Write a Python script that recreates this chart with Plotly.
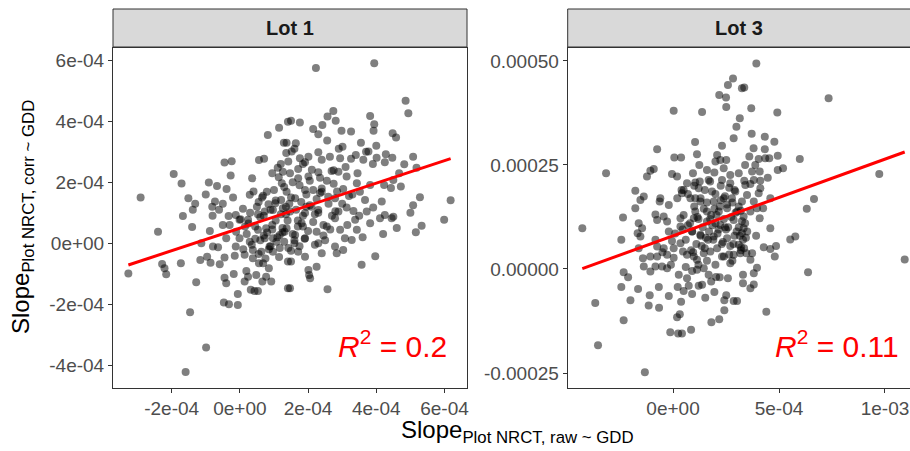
import numpy as np
import plotly.graph_objects as go

# ---------------- data (values in units of 1e-4) ----------------
lot1_x = [
 -2.91,-1.94,-1.71,-1.51,-1.31,-1.38,-1.67,-0.91,-0.67,-0.39,-0.45,-0.24,-0.27,-0.81,-0.73,-0.61,-0.33,-0.12,0.09,0.29,
 0.36,0.56,0.71,0.82,1.15,1.29,1.36,1.11,1.26,1.14,1.23,0.79,0.55,0.68,0.84,1.04,1.21,1.26,0.97,0.73,0.53,0.02,1.41,
 2.23,3.94,4.86,4.94,1.50,1.76,2.57,2.74,2.81,2.42,2.15,2.30,2.98,3.26,2.56,3.82,3.94,3.92,4.48,4.58,3.01,1.37,1.64,
 1.52,1.42,1.76,2.01,2.30,2.40,2.64,2.94,3.26,3.62,3.77,4.01,4.28,4.47,4.25,4.82,5.08,5.18,4.67,4.50,4.72,4.23,4.43,
 5.28,5.08,6.18,5.99,4.16,3.91,3.67,3.43,3.45,3.13,2.89,2.69,2.55,2.30,2.11,1.91,1.71,1.47,1.71,2.01,1.91,2.15,2.40,
 1.62,1.37,1.47,3.03,2.79,3.13,3.33,2.89,2.59,2.30,1.91,3.52,3.82,3.72,4.25,4.50,
 5.33,5.16,3.97,3.57,2.57,1.47,2.03,2.06,2.01,2.25,1.50,1.91,1.71,1.42,2.40,2.84,3.03,3.28,3.43,2.79,2.30,1.91,1.62,
 1.37,1.81,2.25,2.55,2.94,3.08,3.82,4.11,4.45,3.38,2.79,
 -3.27,-2.40,-2.28,-2.21,-2.16,-1.73,-1.40,-1.28,-1.46,-0.99,-1.59,-0.88,-1.13,-1.16,-0.96,-0.86,-0.59,-0.79,-0.64,
 -0.45,-0.45,-0.40,-0.18,-0.47,-0.32,-0.06,-0.06,-0.15,-0.12,-0.40,0.14,0.19,0.24,0.14,0.32,0.43,0.53,0.38,0.56,0.48,
 0.66,0.77,0.92,0.85,0.68,0.63,0.38,0.29,-0.01,-0.11,-0.30,-0.01,0.24,0.53,0.73,0.87,0.97,1.07,1.17,1.31,1.41,1.41,
 0.77,0.97,1.17,-0.50,
 0.20,0.45,0.60,0.80,0.95,1.10,1.25,1.40,1.55,1.70,1.85,2.00,2.15,2.30,2.45,0.30,0.50,0.70,0.90,1.05,1.20,1.35,1.50,
 1.65,1.80,1.95,2.10,2.25,2.40,2.60,2.70,2.85,3.00,3.15,3.30,3.50,0.10,0.35,0.55,0.75,0.90,1.15,1.30,1.50,1.60,1.75,
 1.90,2.20,2.50,2.65,1.00,1.30,1.55,1.75,2.05,0.65,0.40,2.35,2.75,3.10,3.40,3.70,3.90,4.00,3.55,2.90,1.85,1.60,1.20,0.95,
 -1.00,-0.80,-0.50,-0.20,4.20,4.60,3.60,5.00,0.25,0.60,0.95,1.35,1.70,2.05,2.45,2.80,3.20,0.45,0.85,1.25,1.60,1.95,
 2.35,2.75,1.05,1.45,1.85,2.20,0.15,0.70,
]
lot1_y = [
 1.50,2.27,1.96,1.48,1.30,1.10,0.89,1.99,1.88,1.78,2.65,2.69,2.22,1.20,1.37,1.10,0.89,0.93,1.13,1.59,
 2.13,2.73,2.77,3.55,3.79,3.30,2.96,2.48,2.35,2.17,1.97,1.69,1.35,1.56,1.28,1.31,1.42,1.15,1.09,1.04,0.95,0.79,3.99,
 5.75,5.91,4.68,4.27,4.02,3.96,4.16,4.34,4.02,3.88,3.75,3.58,3.69,3.67,3.37,4.18,3.91,3.69,3.61,3.47,3.17,3.30,3.28,
 3.01,2.68,2.79,2.84,2.99,2.74,2.84,2.79,2.77,2.74,3.01,2.81,2.92,2.81,2.66,2.59,2.84,2.48,2.30,2.08,1.86,1.91,1.81,
 1.51,1.25,1.41,0.77,1.37,1.17,1.42,1.97,2.30,2.19,2.35,2.37,2.05,2.33,2.41,2.66,2.44,2.30,2.13,2.19,1.75,1.75,1.69,
 1.48,1.69,1.04,1.78,1.48,1.17,1.06,1.04,1.53,1.09,0.99,1.69,1.91,1.04,0.93,0.87,
 0.57,0.36,-0.43,-0.71,-1.51,-1.48,-1.04,-1.15,-0.88,-0.77,-0.60,-0.44,-0.28,-0.16,-0.33,-0.33,-0.22,0.11,0.44,-0.11,
 0.00,0.16,0.27,0.49,0.66,0.38,0.55,0.44,0.16,0.66,0.82,0.82,0.77,0.82,
 -0.99,0.38,-0.68,-0.82,-1.02,-0.66,0.53,-1.28,-2.27,-3.42,-4.23,0.40,0.00,-0.55,-0.44,-0.64,-0.69,-0.11,-0.13,
 -0.47,-1.13,-1.31,-1.01,-1.95,-2.00,-2.03,-1.67,-0.41,-0.11,0.16,-0.38,-0.91,-1.10,-1.26,-1.53,-1.57,-1.57,-0.49,-0.66,
 -1.04,-1.26,-1.10,-1.26,-0.82,-0.66,-0.28,-0.22,0.05,0.16,0.38,0.60,0.77,0.77,0.44,0.16,-0.11,-0.28,0.05,-0.16,0.38,
 -0.60,-1.48,0.49,0.16,0.27,0.60,
 0.30,0.55,0.10,0.35,0.60,0.20,0.50,0.75,0.30,0.55,0.90,0.40,0.70,1.00,0.25,1.00,1.20,0.90,1.10,1.40,0.95,1.20,1.50,
 1.10,1.35,1.60,1.20,1.45,1.80,1.30,0.90,1.70,1.30,0.60,1.60,0.90,-0.20,-0.05,-0.35,-0.50,-0.10,-0.45,0.05,-0.25,0.00,
 -0.10,0.15,-0.05,0.10,0.45,1.75,1.85,2.00,1.90,2.05,1.50,1.70,2.15,2.40,2.50,2.90,3.00,2.60,3.20,3.30,3.10,2.60,3.10,
 2.60,2.30,
 1.60,0.90,1.30,1.50,0.30,0.50,0.20,1.00,0.65,0.85,0.45,0.95,0.75,1.25,0.60,1.05,1.55,0.15,-0.20,0.35,0.10,1.20,
 1.65,1.95,0.75,1.30,0.55,0.95,0.55,0.25,
]

lot3_x = [
 -3.16,0.03,1.37,2.83,2.59,2.18,2.50,2.51,3.25,3.15,2.99,2.86,1.04,2.31,-0.75,0.06,0.38,1.13,2.08,2.23,2.00,2.51,1.24,
 1.60,1.95,2.39,2.70,-0.91,-1.07,-1.23,-0.05,0.19,0.94,1.05,1.26,0.66,1.68,2.31,2.70,2.94,-1.78,-1.38,-1.54,-1.78,
 -0.60,-0.63,-0.20,-0.83,-0.44,-2.36,0.50,0.42,0.82,1.21,1.29,1.84,1.92,2.39,2.78,1.05,1.60,2.16,0.35,2.55,3.02,
 3.93,3.36,3.69,4.92,7.34,3.71,4.33,4.78,4.33,4.35,4.54,4.04,4.94,5.98,5.19,4.94,3.88,3.73,4.09,4.47,4.12,3.81,3.36,
 3.41,3.65,4.12,4.04,4.59,3.49,3.25,3.81,3.96,4.25,3.65,3.10,9.73,6.65,6.31,4.09,3.33,
 10.93,6.37,4.40,5.53,5.77,4.59,3.33,3.25,3.92,3.44,4.28,4.59,4.86,4.80,3.21,3.17,3.46,3.73,3.65,3.96,3.81,3.30,3.30,
 3.81,3.65,3.02,
 -4.28,-3.67,-3.54,-2.33,-1.33,-2.44,-2.33,-2.12,-2.44,-2.01,-1.65,-1.15,-1.10,-0.67,-0.66,-0.20,-0.13,0.24,0.42,0.85,
 0.19,0.32,0.38,0.22,0.50,0.74,0.90,0.27,0.66,1.13,1.21,1.52,1.95,2.42,2.51,2.86,2.42,2.18,1.81,2.59,2.03,1.68,1.45,
 1.37,-1.38,-1.07,-0.83,-0.28,-0.52,-1.07,-0.75,-1.42,-1.62,-1.67,-1.54,-1.62,-0.83,-0.75,-0.44,-0.28,0.03,0.03,-0.05,
 0.35,0.47,0.66,0.98,1.13,1.45,1.76,2.08,2.31,2.70,2.86,3.10,2.55,1.92,1.29,0.90,0.35,-0.28,-0.75,-1.46,0.98,1.60,
 2.23,2.86,
 0.50,0.80,1.00,1.20,1.40,1.60,1.80,2.00,2.20,2.40,2.60,2.80,3.00,3.20,3.40,0.60,0.90,1.10,1.30,1.50,1.70,1.90,2.10,
 2.30,2.50,2.70,2.90,3.10,3.30,3.50,0.20,0.40,0.70,1.00,1.30,1.50,1.75,2.00,2.25,2.45,2.65,2.90,3.10,3.40,3.60,3.80,
 1.20,1.60,2.00,2.40,2.80,3.20,0.10,-0.20,-0.50,-0.10,0.60,0.90,1.80,2.20,
 0.70,1.15,1.55,1.95,2.35,2.75,3.15,0.95,1.35,1.75,2.15,2.55,2.95,3.35,1.05,1.45,1.85,2.25,2.65,0.45,0.85,1.65,2.05,
 2.45,2.85,3.25,
]
lot3_y = [
 2.30,3.80,3.77,4.58,4.42,4.18,4.12,3.89,4.34,3.62,3.42,3.14,3.05,2.96,2.88,2.68,2.68,2.76,2.74,2.62,2.58,2.62,2.50,
 2.38,2.32,2.42,2.26,2.40,2.36,2.22,2.28,2.22,2.30,2.08,2.10,2.06,2.14,2.14,2.06,1.86,1.88,1.74,1.66,1.46,
 1.70,1.62,1.54,1.31,1.26,1.24,1.90,1.82,1.70,1.94,1.62,1.86,1.62,1.70,1.70,1.38,1.38,1.38,1.22,1.46,1.38,
 4.94,4.36,3.86,3.76,4.10,3.25,3.18,3.06,2.88,2.66,2.66,2.64,2.72,2.64,2.42,2.38,2.50,2.34,2.34,2.19,2.12,2.14,2.12,
 2.02,2.04,1.94,1.82,1.70,1.78,1.62,1.62,1.46,1.46,1.38,1.50,2.28,1.68,1.45,1.22,1.26,
 0.23,-0.08,-1.03,0.71,0.78,0.98,0.98,0.86,0.80,0.75,0.52,0.48,0.55,0.30,0.52,0.38,0.38,0.38,0.22,0.03,-0.10,-0.14,-0.34,
 -0.37,-0.46,-0.77,
 0.98,-0.82,-1.83,-1.23,-2.48,0.70,-0.08,-0.20,-0.43,-0.75,-0.48,-0.88,-0.63,-0.43,-0.93,-0.65,-1.52,-1.55,-1.55,-1.46,
 -1.16,-1.09,-0.79,-0.43,-0.53,-0.40,-0.60,-0.14,-0.22,-0.02,-0.40,-0.69,-0.55,-0.75,-0.63,-0.77,-0.99,-1.21,-1.28,-0.22,
 -0.19,-0.14,0.02,-0.38,0.06,-0.06,0.06,0.02,0.06,0.30,0.30,0.26,0.50,0.86,0.78,1.10,0.70,0.54,0.50,0.34,0.27,0.50,0.67,
 0.62,0.42,0.34,0.30,0.22,0.38,0.42,0.50,0.30,0.14,0.34,0.58,0.74,0.78,0.82,0.90,1.02,1.14,1.18,0.98,1.22,1.14,
 1.06,1.18,
 1.30,1.10,1.50,1.20,1.00,1.60,1.30,1.10,1.50,1.20,1.00,1.60,0.90,1.40,1.10,0.70,0.90,0.60,0.80,0.50,0.90,0.70,0.85,
 0.60,0.95,0.55,0.80,1.00,0.70,0.90,1.70,1.90,1.80,2.00,1.70,1.90,2.10,1.80,2.00,1.75,1.95,1.90,2.30,2.50,2.70,2.90,
 0.10,0.20,0.10,0.30,0.20,0.45,0.85,0.90,0.40,0.10,0.05,-0.05,-0.30,-0.20,
 1.05,1.25,0.75,1.45,0.65,1.25,0.80,0.40,0.55,1.20,0.95,1.55,1.35,0.50,1.70,1.45,1.05,1.65,0.35,0.95,0.45,0.70,1.30,
 1.00,0.60,1.15,
]

panels = ["Lot 1", "Lot 3"]
r2_labels = ["0.2", "0.11"]
x1_ticks = [-2e-4, 0, 2e-4, 4e-4, 6e-4]
x1_ticktext = ["-2e-04", "0e+00", "2e-04", "4e-04", "6e-04"]
y1_ticks = [-4e-4, -2e-4, 0, 2e-4, 4e-4, 6e-4]
y1_ticktext = ["-4e-04", "-2e-04", "0e+00", "2e-04", "4e-04", "6e-04"]
x2_ticks = [0, 5e-4, 1e-3]
x2_ticktext = ["0e+00", "5e-04", "1e-03"]
y2_ticks = [-2.5e-4, 0, 2.5e-4, 5e-4]
y2_ticktext = ["-0.00025", "0.00000", "0.00025", "0.00050"]

SCALE = 1e-4
X1 = np.array(lot1_x) * SCALE
Y1 = np.array(lot1_y) * SCALE
X3 = np.array(lot3_x) * SCALE
Y3 = np.array(lot3_y) * SCALE

# ---------------- figure ----------------
W, H = 910, 451
FONT = "Liberation Sans, Arial, sans-serif"
fig = go.Figure()

def px_x(p):
    return p / W

def px_y(p):
    return (H - p) / H

dom1 = [px_x(113), px_x(467)]
dom2 = [px_x(567.7), 1.0]
ydom = [px_y(387.6), px_y(48)]

pts_style = dict(mode="markers", marker=dict(size=8, color="rgba(0,0,0,0.5)", line=dict(width=0)),
                 showlegend=False, hoverinfo="skip")

for X, Y, xa, ya in [(X1, Y1, "x", "y"), (X3, Y3, "x2", "y2")]:
    fig.add_trace(go.Scatter(x=X, y=Y, xaxis=xa, yaxis=ya, **pts_style))
    b, a = np.polyfit(X, Y, 1)
    xs = np.array([X.min(), X.max()])
    fig.add_trace(go.Scatter(x=xs, y=a + b * xs, xaxis=xa, yaxis=ya, mode="lines",
                             line=dict(color="red", width=3), showlegend=False, hoverinfo="skip"))

axis_common = dict(showgrid=False, zeroline=False, showline=True, linecolor="#333333", linewidth=1,
                   ticks="outside", ticklen=4, tickwidth=1, tickcolor="#333333",
                   tickfont=dict(family=FONT, size=19, color="#4D4D4D"), automargin=False)

fig.update_layout(
    width=W, height=H, margin=dict(l=0, r=0, t=0, b=0),
    paper_bgcolor="white", plot_bgcolor="white",
    xaxis=dict(domain=dom1, range=[-3.72e-4, 6.66e-4], tickvals=x1_ticks, ticktext=x1_ticktext,
               anchor="y", mirror=True, **axis_common),
    yaxis=dict(domain=ydom, range=[-4.74e-4, 6.41e-4], tickvals=y1_ticks, ticktext=y1_ticktext,
               anchor="x", mirror=True, **axis_common),
    xaxis2=dict(domain=dom2, range=[-4.97e-4, 11.18e-4], tickvals=x2_ticks, ticktext=x2_ticktext,
                anchor="y2", mirror=True, **axis_common),
    yaxis2=dict(domain=ydom, range=[-2.85e-4, 5.31e-4], tickvals=y2_ticks, ticktext=y2_ticktext,
                anchor="x2", mirror=False, **axis_common),
)

# strips
strip_y = [px_y(47), px_y(9)]
for dom in [dom1, [dom2[0], 1.01]]:
    fig.add_shape(type="rect", xref="paper", yref="paper", x0=dom[0], x1=dom[1], y0=strip_y[0], y1=strip_y[1],
                  fillcolor="#D9D9D9", line=dict(color="#333333", width=1), layer="above")
for dom, label in [(dom1, panels[0]), (dom2, panels[1])]:
    fig.add_annotation(xref="paper", yref="paper", x=(dom[0] + dom[1]) / 2, y=px_y(28),
                       text=f"<b>{label}</b>", showarrow=False, xanchor="center", yanchor="middle",
                       font=dict(family=FONT, size=20, color="#1A1A1A"))

# R^2 labels
for lab, xpx in [(r2_labels[0], 449), (r2_labels[1], 901)]:
    fig.add_annotation(xref="paper", yref="paper", x=px_x(xpx), y=px_y(344),
                       text=f"<i>R</i><sup>2</sup> = {lab}", showarrow=False, xanchor="right", yanchor="middle",
                       font=dict(family=FONT, size=30, color="red"))

# axis titles
fig.add_annotation(xref="paper", yref="paper", x=px_x(517), y=px_y(431),
                   text="Slope<sub>Plot NRCT, raw ~ GDD</sub>", showarrow=False,
                   xanchor="center", yanchor="middle", font=dict(family=FONT, size=24, color="black"))
fig.add_annotation(xref="paper", yref="paper", x=px_x(22), y=px_y(217),
                   text="Slope<sub>Plot NRCT, corr ~ GDD</sub>", showarrow=False, textangle=-90,
                   xanchor="center", yanchor="middle", font=dict(family=FONT, size=24, color="black"))

fig.write_html("out.html")
